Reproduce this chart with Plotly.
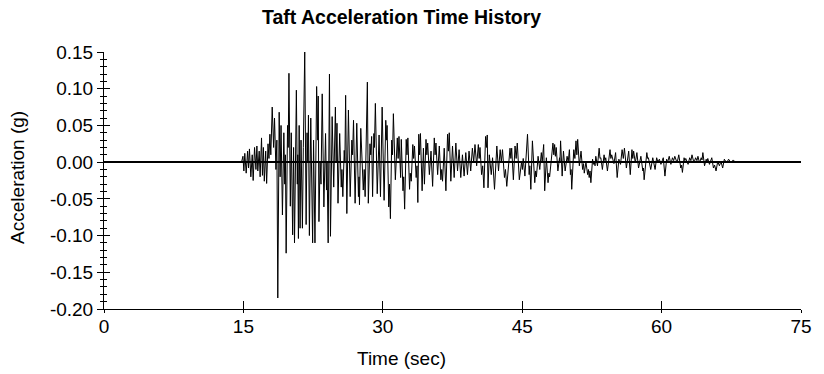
import plotly.graph_objects as go

# ---- data ----
time_sec = [
    0.0, 14.8, 14.95, 15.05, 15.15, 15.3, 15.45, 15.55, 15.65, 15.8, 15.95, 16.05, 16.2, 16.35, 16.45, 16.55,
    16.7, 16.8, 16.95, 17.05, 17.15, 17.25, 17.4, 17.5, 17.65, 17.75, 17.85, 17.95, 18.1, 18.25, 18.35, 18.5,
    18.6, 18.7, 18.85, 18.95, 19.05, 19.2, 19.35, 19.45, 19.52, 19.6, 19.75, 19.82, 19.9, 20.05, 20.15, 20.3,
    20.4, 20.5, 20.7, 20.8, 20.85, 20.92, 21.0, 21.1, 21.2, 21.35, 21.45, 21.6, 21.75, 21.85, 21.93, 22.0,
    22.1, 22.25, 22.45, 22.55, 22.7, 22.88, 23.0, 23.05, 23.13, 23.25, 23.35, 23.48, 23.66, 23.84, 23.94, 24.0,
    24.12, 24.26, 24.37, 24.55, 24.72, 24.9, 24.98, 25.07, 25.18, 25.36, 25.53, 25.6, 25.7, 25.85, 25.92, 26.0,
    26.13, 26.3, 26.49, 26.67, 26.75, 26.85, 27.02, 27.2, 27.38, 27.44, 27.49, 27.63, 27.9, 28.0, 28.1, 28.34,
    28.44, 28.62, 28.7, 28.8, 28.9, 29.04, 29.1, 29.2, 29.4, 29.6, 29.75, 29.93, 30.14, 30.32, 30.4, 30.46,
    30.64, 30.72, 30.82, 30.96, 31.05, 31.14, 31.35, 31.56, 31.65, 31.74, 31.92, 31.99, 32.17, 32.25, 32.35, 32.52,
    32.6, 32.7, 32.88, 32.95, 33.06, 33.23, 33.32, 33.41, 33.59, 33.68, 33.77, 33.87, 33.96, 34.05, 34.23, 34.37,
    34.48, 34.65, 34.74, 34.83, 35.01, 35.19, 35.36, 35.54, 35.63, 35.72, 35.9, 36.08, 36.25, 36.34, 36.43, 36.61,
    36.79, 36.97, 37.06, 37.15, 37.32, 37.5, 37.68, 37.86, 38.04, 38.21, 38.39, 38.57, 38.75, 38.93, 39.11, 39.28,
    39.46, 39.64, 39.78, 39.92, 40.1, 40.28, 40.37, 40.46, 40.63, 40.75, 40.88, 41.06, 41.15, 41.24, 41.32, 41.46,
    41.67, 41.81, 42.02, 42.27, 42.45, 42.63, 42.75, 42.88, 43.09, 43.2, 43.34, 43.69, 43.78, 43.87, 44.05, 44.23,
    44.35, 44.47, 44.69, 44.93, 45.02, 45.11, 45.29, 45.57, 45.75, 45.82, 45.93, 46.1, 46.35, 46.45, 46.53, 46.71,
    46.89, 47.06, 47.15, 47.31, 47.42, 47.6, 47.78, 47.87, 47.95, 48.13, 48.31, 48.4, 48.49, 48.57, 48.66, 48.84,
    49.02, 49.06, 49.13, 49.3, 49.44, 49.62, 49.83, 49.95, 50.08, 50.19, 50.26, 50.33, 50.55, 50.67, 50.79, 50.88,
    50.97, 51.15, 51.33, 51.5, 51.6, 51.68, 51.86, 52.04, 52.12, 52.21, 52.3, 52.39, 52.57, 52.66, 52.75, 52.84,
    52.92, 53.1, 53.28, 53.37, 53.46, 53.63, 53.81, 53.9, 53.99, 54.17, 54.45, 54.54, 54.63, 54.87, 55.05, 55.22,
    55.4, 55.58, 55.75, 55.88, 56.0, 56.21, 56.46, 56.63, 56.81, 56.9, 56.99, 57.17, 57.34, 57.52, 57.77, 57.98,
    58.05, 58.12, 58.41, 58.5, 58.58, 58.83, 59.05, 59.3, 59.47, 59.6, 59.76, 59.93, 60.18, 60.36, 60.54, 60.65,
    60.82, 61.0, 61.17, 61.3, 61.42, 61.67, 61.85, 62.06, 62.15, 62.24, 62.42, 62.5, 62.6, 62.85, 63.02, 63.15,
    63.27, 63.48, 63.66, 63.8, 63.91, 64.08, 64.26, 64.35, 64.44, 64.62, 64.8, 64.88, 64.97, 65.15, 65.4, 65.58,
    65.7, 65.86, 66.04, 66.22, 66.39, 66.57, 66.75, 67.0, 67.21, 67.46, 67.71, 67.92, 75.0,
]

accel_g = [
    0.0, 0.0, 0.008, -0.012, 0.012, -0.015, 0.015, -0.008, 0.018, -0.02, 0.01, -0.025, 0.02, -0.01, 0.022, -0.012,
    0.015, -0.02, 0.033, -0.018, 0.02, -0.026, 0.015, -0.029, 0.025, 0.005, 0.038, 0.01, 0.075, 0.02, 0.06, -0.01,
    0.03, -0.185, 0.068, -0.02, 0.05, -0.072, 0.04, -0.03, 0.01, -0.124, 0.05, 0.02, 0.121, -0.06, 0.04, -0.099,
    0.02, -0.11, 0.098, -0.03, 0.01, -0.104, 0.05, -0.09, 0.03, -0.09, 0.02, 0.151, -0.085, 0.04, 0.0, 0.064,
    -0.1, 0.06, -0.11, 0.03, -0.11, 0.103, 0.03, 0.09, -0.081, 0.0, -0.03, 0.093, -0.061, 0.039, -0.038, 0.0,
    -0.11, 0.12, -0.101, 0.062, -0.034, 0.075, 0.0, 0.053, -0.056, 0.039, -0.034, -0.01, -0.047, 0.016, 0.0, 0.091,
    -0.07, 0.071, -0.047, 0.03, 0.01, 0.057, -0.056, 0.053, -0.047, -0.02, -0.058, 0.046, -0.038, -0.01, -0.047, 0.109,
    -0.056, 0.025, 0.01, 0.035, -0.047, 0.039, 0.02, 0.08, -0.043, 0.037, -0.047, 0.075, -0.052, 0.057, 0.03, 0.05,
    -0.061, -0.03, -0.077, 0.03, 0.01, 0.066, -0.024, 0.033, 0.005, 0.035, -0.021, 0.031, -0.039, -0.02, -0.064, 0.031,
    0.01, 0.033, -0.037, -0.015, -0.026, 0.024, 0.005, 0.022, -0.021, -0.005, -0.055, 0.038, 0.01, 0.039, -0.039, 0.019,
    -0.03, 0.031, 0.01, 0.026, -0.017, 0.015, -0.033, 0.033, 0.01, 0.026, -0.017, 0.022, -0.024, -0.01, -0.026, 0.019,
    -0.039, 0.038, 0.015, 0.04, -0.026, 0.022, -0.021, 0.026, -0.012, 0.017, -0.021, 0.01, -0.019, 0.013, -0.017, 0.015,
    -0.012, 0.019, 0.0, 0.024, -0.005, 0.024, 0.005, 0.02, -0.017, -0.005, -0.035, 0.035, 0.02, 0.037, -0.035, 0.01,
    -0.017, 0.006, -0.037, 0.022, -0.012, 0.017, 0.0, 0.017, -0.021, -0.01, -0.033, 0.019, 0.005, 0.019, -0.024, 0.022,
    0.005, 0.026, -0.024, 0.0, -0.01, 0.005, -0.019, 0.038, -0.017, -0.005, -0.037, 0.029, -0.028, -0.012, -0.02, 0.008,
    -0.01, 0.013, 0.0, 0.024, -0.039, 0.006, -0.028, -0.015, -0.02, 0.005, 0.026, 0.01, 0.024, 0.008, 0.02, -0.012,
    0.006, 0.0, 0.029, -0.019, 0.015, -0.012, 0.008, 0.0, 0.017, -0.017, -0.01, -0.037, 0.017, 0.005, 0.029, 0.01,
    0.031, -0.005, 0.015, -0.01, -0.002, -0.015, 0.0, -0.017, -0.01, -0.021, -0.012, -0.028, 0.004, -0.003, 0.0, -0.005,
    0.008, -0.005, 0.019, 0.005, 0.006, -0.01, 0.01, 0.002, 0.006, -0.012, 0.017, 0.005, 0.01, -0.002, 0.013, -0.021,
    0.004, -0.003, 0.017, 0.005, 0.019, -0.008, 0.015, -0.017, 0.017, 0.005, 0.015, -0.001, 0.013, -0.008, 0.008, -0.012,
    -0.008, -0.024, 0.013, 0.005, 0.006, -0.01, 0.006, -0.01, 0.006, 0.0, 0.004, -0.003, 0.006, -0.019, 0.004, 0.0,
    0.008, -0.003, 0.006, 0.002, 0.008, -0.001, 0.01, -0.008, -0.004, -0.014, 0.006, 0.002, 0.005, -0.003, 0.006, 0.002,
    0.01, -0.001, 0.006, 0.002, 0.008, -0.001, 0.006, 0.003, 0.013, -0.005, 0.004, 0.0, 0.005, -0.003, 0.006, -0.008,
    -0.004, -0.012, 0.001, -0.005, 0.001, -0.008, 0.004, -0.001, 0.004, -0.001, 0.003, 0.0, 0.0,
]

x_tick_vals = [0, 15, 30, 45, 60, 75]
x_tick_text = ["0", "15", "30", "45", "60", "75"]
y_tick_vals = [0.15, 0.10, 0.05, 0.00, -0.05, -0.10, -0.15, -0.20]
y_tick_text = ["0.15", "0.10", "0.05", "0.00", "-0.05", "-0.10", "-0.15", "-0.20"]

title_text = "Taft Acceleration Time History"
x_title = "Time (sec)"
y_title = "Acceleration (g)"

FONT = "Liberation Sans, Arial, sans-serif"

fig = go.Figure()
fig.add_trace(go.Scatter(x=time_sec, y=accel_g, mode="lines",
                         line=dict(color="black", width=1), showlegend=False,
                         hoverinfo="skip"))
# invisible trace so the overlay axes (ticks on the other side) render
fig.add_trace(go.Scatter(x=[0], y=[0], xaxis="x2", yaxis="y2", mode="markers",
                         marker=dict(opacity=0), showlegend=False, hoverinfo="skip"))

fig.update_layout(
    width=824, height=374,
    margin=dict(l=104, r=15, t=52, b=65),
    paper_bgcolor="white", plot_bgcolor="white",
    font=dict(family=FONT, size=19, color="black"),
    hovermode=False,
    xaxis=dict(range=[0, 75], tickvals=x_tick_vals, ticktext=x_tick_text,
               showgrid=False, zeroline=False, showline=True, linecolor="black", linewidth=1,
               ticks="inside", ticklen=8, tickcolor="black",
               tickfont=dict(family=FONT, size=19)),
    xaxis2=dict(range=[0, 75], overlaying="x", anchor="y", side="bottom",
                tickvals=x_tick_vals, showticklabels=False, showgrid=False, zeroline=False,
                ticks="outside", ticklen=3, tickcolor="black", showline=False),
    yaxis=dict(range=[-0.20, 0.15], tickvals=y_tick_vals, ticktext=y_tick_text,
               showgrid=False, zeroline=True, zerolinecolor="black", zerolinewidth=2,
               showline=True, linecolor="black", linewidth=1,
               ticks="outside", ticklen=6, tickcolor="black",
               tickfont=dict(family=FONT, size=19),
               minor=dict(dtick=0.01, tick0=0, ticks="outside", ticklen=3, tickcolor="black")),
    yaxis2=dict(range=[-0.20, 0.15], overlaying="y", anchor="x", side="left",
                tickvals=y_tick_vals, showticklabels=False, showgrid=False, zeroline=False,
                ticks="inside", ticklen=6, tickcolor="black", showline=False,
                minor=dict(dtick=0.01, tick0=0, ticks="inside", ticklen=3, tickcolor="black")),
    annotations=[
        dict(text="<b>" + title_text + "</b>", xref="paper", yref="paper",
             x=0.427, y=1.136, xanchor="center", yanchor="middle", showarrow=False,
             font=dict(family=FONT, size=19.5)),
        dict(text=x_title, xref="paper", yref="paper", x=0.427, y=-0.191, xanchor="center",
             yanchor="middle", showarrow=False, font=dict(family=FONT, size=19)),
        dict(text=y_title, xref="paper", yref="paper", x=-0.1234, y=0.514, xanchor="center",
             yanchor="middle", textangle=-90, showarrow=False, font=dict(family=FONT, size=19)),
    ],
)

# remove the browser's default page margin so the figure sits at the window's corner
fig.write_html("out.html",
               config={"displayModeBar": False, "staticPlot": True},
               post_script="document.body.style.margin='0';document.body.style.padding='0';")
